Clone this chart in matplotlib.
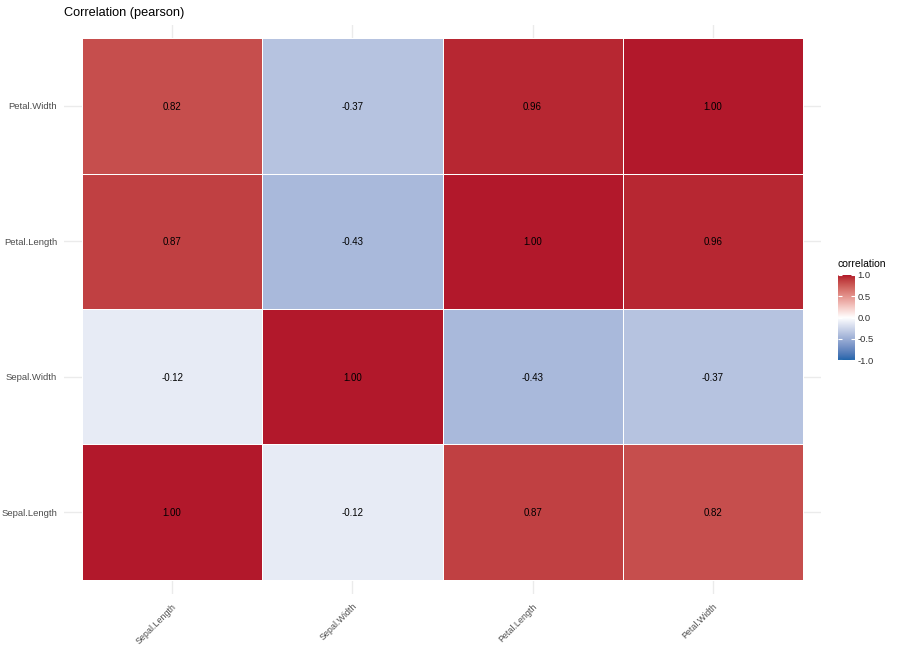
import numpy as np
import matplotlib
matplotlib.use("Agg")
import matplotlib.pyplot as plt
import matplotlib.transforms as mtransforms
from matplotlib.colors import ListedColormap

plt.rcParams['font.family'] = ['Liberation Sans', 'DejaVu Sans']

variables = ["Sepal.Length", "Sepal.Width", "Petal.Length", "Petal.Width"]
corr = np.array([
    [1.00, -0.12, 0.87, 0.82],
    [-0.12, 1.00, -0.43, -0.37],
    [0.87, -0.43, 1.00, 0.96],
    [0.82, -0.37, 0.96, 1.00],
])
legend_ticks = [-1.0, -0.5, 0.0, 0.5, 1.0]
low_col, mid_col, high_col = "#2166AC", "#FFFFFF", "#B2182B"

# --- Lab interpolation (like ggplot2 scale_fill_gradient2) ---
def hex2rgb(h):
    h = h.lstrip('#')
    return np.array([int(h[i:i+2], 16) / 255 for i in (0, 2, 4)])

def srgb2lin(c):
    return np.where(c <= 0.04045, c / 12.92, ((c + 0.055) / 1.055) ** 2.4)

def lin2srgb(c):
    c = np.clip(c, 0, 1)
    return np.where(c <= 0.0031308, c * 12.92, 1.055 * c ** (1 / 2.4) - 0.055)

M = np.array([[0.4124, 0.3576, 0.1805], [0.2126, 0.7152, 0.0722], [0.0193, 0.1192, 0.9505]])
Minv = np.linalg.inv(M)
WP = np.array([0.95047, 1.0, 1.08883])

def f(t):
    return np.where(t > (6/29)**3, np.cbrt(t), t / (3*(6/29)**2) + 4/29)

def finv(t):
    return np.where(t > 6/29, t**3, 3*(6/29)**2 * (t - 4/29))

def rgb2lab(rgb):
    xyz = M @ srgb2lin(rgb) / WP
    fx, fy, fz = f(xyz)
    return np.array([116*fy - 16, 500*(fx - fy), 200*(fy - fz)])

def lab2rgb(lab):
    L, a, b = lab
    fy = (L + 16) / 116
    fx = fy + a / 500
    fz = fy - b / 200
    xyz = np.array([finv(fx), finv(fy), finv(fz)]) * WP
    return lin2srgb(Minv @ xyz)

lab_lo, lab_mid, lab_hi = rgb2lab(hex2rgb(low_col)), rgb2lab(hex2rgb(mid_col)), rgb2lab(hex2rgb(high_col))
vals = np.linspace(-1, 1, 256)
cols = []
for v in vals:
    if v < 0:
        lab = lab_mid + (-v) * (lab_lo - lab_mid)
    else:
        lab = lab_mid + v * (lab_hi - lab_mid)
    cols.append(lab2rgb(lab))
cmap = ListedColormap(np.array(cols))

fig = plt.figure(figsize=(9, 6.5), dpi=100)
ax = fig.add_axes([64/900, (650-593.5)/650, (821-64)/900, (593.5-24.5)/650])

n = len(variables)
pos = np.arange(n)
for p in pos:
    ax.axvline(p, color="#EBEBEB", lw=1.0, zorder=0)
    ax.axhline(p, color="#EBEBEB", lw=1.0, zorder=0)

edges = np.arange(n + 1) - 0.5
ax.pcolormesh(edges, edges, corr.T, cmap=cmap, vmin=-1, vmax=1,
              edgecolors="white", linewidth=0.5, zorder=1)
for i in range(n):
    for j in range(n):
        ax.text(i, j, f"{corr[i, j]:.2f}", ha="center", va="center_baseline",
                fontsize=7, color="black", zorder=2)

ax.set_xlim(-0.6, n - 0.4)
ax.set_ylim(-0.6, n - 0.4)
ax.set_xticks(pos)
ax.set_yticks(pos)
ax.set_xticklabels(variables, rotation=45, ha="right", va="top", fontsize=6.4, color="#4D4D4D")
ax.set_yticklabels(variables, fontsize=6.8, color="#4D4D4D", va="center_baseline")
ax.tick_params(length=0, pad=5)
ax.tick_params(axis="x", pad=6)
offset = mtransforms.ScaledTranslation(6/100, 0, fig.dpi_scale_trans)
for lbl in ax.get_xticklabels():
    lbl.set_transform(lbl.get_transform() + offset)
for s in ax.spines.values():
    s.set_visible(False)

fig.text(64/900, 1 - 13/650, "Correlation (pearson)", fontsize=9.2, ha="left", va="center")

# colorbar legend
cax = fig.add_axes([838/900, (650-360)/650, 17/900, 85/650])
grad = np.linspace(-1, 1, 256).reshape(-1, 1)
cax.imshow(grad, cmap=cmap, vmin=-1, vmax=1, aspect="auto", origin="lower",
           extent=[0, 1, -1, 1])
cax.set_xlim(0, 1)
cax.set_ylim(-1, 1)
cax.set_xticks([])
cax.yaxis.tick_right()
cax.set_yticks(legend_ticks)
cax.set_yticklabels([f"{t:.1f}" for t in legend_ticks], fontsize=6.8, color="#333333")
cax.tick_params(axis="y", direction="in", color="white", length=3, width=0.8,
                left=True, right=True, pad=2)
for s in cax.spines.values():
    s.set_visible(False)
fig.text(838/900, 1 - 264/650, "correlation", fontsize=7.5, ha="left", va="center")

fig.savefig("out.png", dpi=100)
